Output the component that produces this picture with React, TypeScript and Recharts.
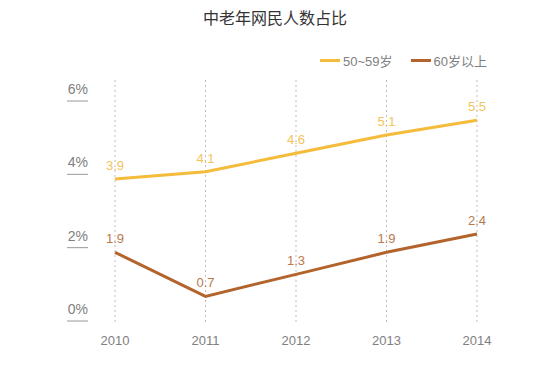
import { LineChart, Line, XAxis, YAxis, CartesianGrid, LabelList } from 'recharts';

const years = ['2010', '2011', '2012', '2013', '2014'];
const age50to59 = [3.9, 4.1, 4.6, 5.1, 5.5];
const age60plus = [1.9, 0.7, 1.3, 1.9, 2.4];
const yTicks = [0, 2, 4, 6];

const YELLOW = '#f5bb3a';
const BROWN = '#b2642c';
const FONT = '"Liberation Sans", Arial, "Noto Sans CJK SC", sans-serif';

const data = years.map((y, i) => ({ year: y, a: age50to59[i], b: age60plus[i] }));

// label sits above a short underline, both right-aligned at x=88
const YTick = ({ y, payload }: any) => (
  <g>
    <text x={88} y={y - 8} textAnchor="end" fill="#808080" fontSize={14} fontFamily={FONT}>
      {payload.value}%
    </text>
    <line x1={67} x2={88} y1={y - 1} y2={y - 1} stroke="#999" strokeWidth={1} />
  </g>
);

// legend drawn outside the chart so it doesn't eat into the plot area
const LegendBox = () => (
  <div style={{ position: 'absolute', top: 51, left: 320, display: 'flex', alignItems: 'center', fontSize: 13, color: '#808080', fontFamily: FONT }}>
    <span style={{ width: 20, height: 3, background: YELLOW, display: 'inline-block', marginRight: 3 }} />
    <span style={{ marginRight: 18 }}>50~59岁</span>
    <span style={{ width: 20, height: 3, background: BROWN, display: 'inline-block', marginRight: 3 }} />
    <span>60岁以上</span>
  </div>
);

export default function App() {
  return (
    <div style={{ position: 'absolute', left: 0, top: 0, width: 550, height: 367, background: '#fff', fontFamily: FONT }}>
      <div style={{ position: 'absolute', top: 5, width: 550, textAlign: 'center', fontSize: 16, color: '#333', fontFamily: '"Noto Sans CJK SC", sans-serif' }}>
        中老年网民人数占比
      </div>
      <LegendBox />
      <LineChart width={550} height={367} data={data} margin={{ top: 80, right: 73, left: 55, bottom: 15 }}>
        <CartesianGrid vertical horizontal={false} strokeDasharray="2 3" stroke="#bdbdbd" />
        <XAxis
          dataKey="year"
          axisLine={false}
          tickLine={false}
          tick={{ fill: '#808080', fontSize: 13, fontFamily: FONT }}
          dy={6}
          height={30}
        />
        <YAxis
          domain={[0, 6.6]}
          ticks={yTicks}
          axisLine={false}
          tickLine={false}
          tick={<YTick />}
          width={60}
        />
        <Line dataKey="a" name="50~59岁" stroke={YELLOW} strokeWidth={3} dot={false} isAnimationActive={false}>
          <LabelList dataKey="a" position="top" offset={9} fill="#f3c35c" fontSize={13} fontFamily={FONT} />
        </Line>
        <Line dataKey="b" name="60岁以上" stroke={BROWN} strokeWidth={3} dot={false} isAnimationActive={false}>
          <LabelList dataKey="b" position="top" offset={9} fill="#b87a4c" fontSize={13} fontFamily={FONT} />
        </Line>
      </LineChart>
    </div>
  );
}
